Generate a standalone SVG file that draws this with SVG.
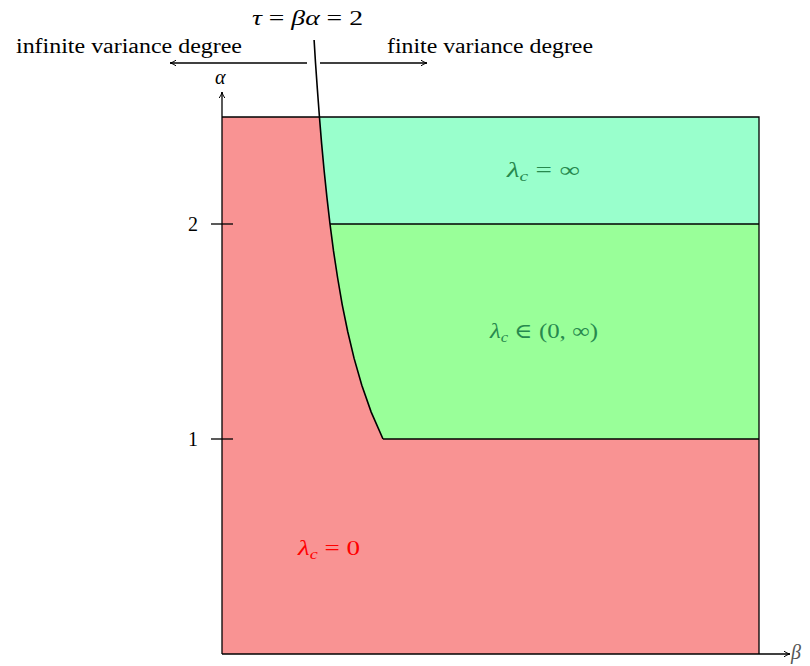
<svg xmlns="http://www.w3.org/2000/svg" width="810" height="666" viewBox="0 0 810 666">
<style>
.t{font-family:"Liberation Serif","DejaVu Serif",serif;fill:#000}
.m{font-family:"Liberation Serif","DejaVu Serif",serif;font-style:italic}
.ln{fill:none;stroke:#000;stroke-width:1.3}
.g{fill:#27894e}
</style>
<defs>
<marker id="ah" markerWidth="8" markerHeight="8" refX="7" refY="4" orient="auto" markerUnits="userSpaceOnUse">
<path d="M1,1.2 Q4,3.4 7,4 Q4,4.6 1,6.8" fill="none" stroke="#000" stroke-width="1"/>
</marker>
</defs>
<rect width="810" height="666" fill="#fff"/>
<g id="region-red">
<rect x="222" y="117" width="537" height="537" fill="#f99393"/>
</g>
<g id="region-cyan">
<path d="M319.4,117 L759,117 L759,224 L330,224 L326.9,197.1 L324.1,170.3 L321.6,143.4 Z" fill="#99ffcc"/>
</g>
<g id="region-green">
<path d="M330,224 L759,224 L759,439 L383,439 L371.2,412.1 L361.8,385.25 L354.1,358.4 L347.7,331.5 L342.2,304.6 L337.6,277.75 L333.5,250.9 Z" fill="#99ff99"/>
</g>
<g id="connectors">
<path class="ln" d="M222,117 L759,117 L759,654"/>
<path class="ln" d="M330,224 L759,224"/>
<path class="ln" d="M383,439 L759,439"/>
<path class="ln" d="M222,654 L790,654" marker-end="url(#ah)"/>
<path class="ln" d="M222,654 L222,92" marker-end="url(#ah)"/>
<path class="ln" d="M211,224 L233,224"/>
<path class="ln" d="M211,439 L233,439"/>
<polyline fill="none" stroke="#000" stroke-width="1.6" points="314.1,40 315.5,62.75 317.4,89.6 319.4,116.5 321.6,143.4 324.1,170.3 326.9,197.1 330,224 333.5,250.9 337.6,277.75 342.2,304.6 347.7,331.5 354.1,358.4 361.8,385.25 371.2,412.1 383,439"/>
<path class="ln" d="M307,63 L170,63" marker-end="url(#ah)"/>
<path class="ln" d="M320,63 L427,63" marker-end="url(#ah)"/>
</g>
<g id="labels">
<text class="t" x="16" y="53" font-size="20" textLength="226" lengthAdjust="spacingAndGlyphs">infinite variance degree</text>
<text class="t" x="387" y="53" font-size="20" textLength="206" lengthAdjust="spacingAndGlyphs">finite variance degree</text>
<text class="t" x="252" y="25" font-size="20" textLength="111" lengthAdjust="spacingAndGlyphs"><tspan class="m">τ</tspan> = <tspan class="m">βα</tspan> = 2</text>
<text class="t" x="188" y="231" font-size="20">2</text>
<text class="t" x="188" y="446" font-size="20">1</text>
<text class="m" x="215" y="84" font-size="20">α</text>
<text class="m" x="791" y="659" font-size="20" fill="#555">β</text>
<text class="t g" x="507" y="177" font-size="21" textLength="73" lengthAdjust="spacingAndGlyphs"><tspan class="m">λ</tspan><tspan class="m" font-size="14" dy="4">c</tspan><tspan dy="-4"> = ∞</tspan></text>
<text class="t g" x="490" y="338" font-size="21" textLength="108" lengthAdjust="spacingAndGlyphs"><tspan class="m">λ</tspan><tspan class="m" font-size="14" dy="4">c</tspan><tspan dy="-4"> ∈ (0, ∞)</tspan></text>
<text class="t" x="298" y="555" font-size="21" style="fill:#ff0000" textLength="62" lengthAdjust="spacingAndGlyphs"><tspan class="m">λ</tspan><tspan class="m" font-size="14" dy="4">c</tspan><tspan dy="-4"> = 0</tspan></text>
</g>
</svg>
